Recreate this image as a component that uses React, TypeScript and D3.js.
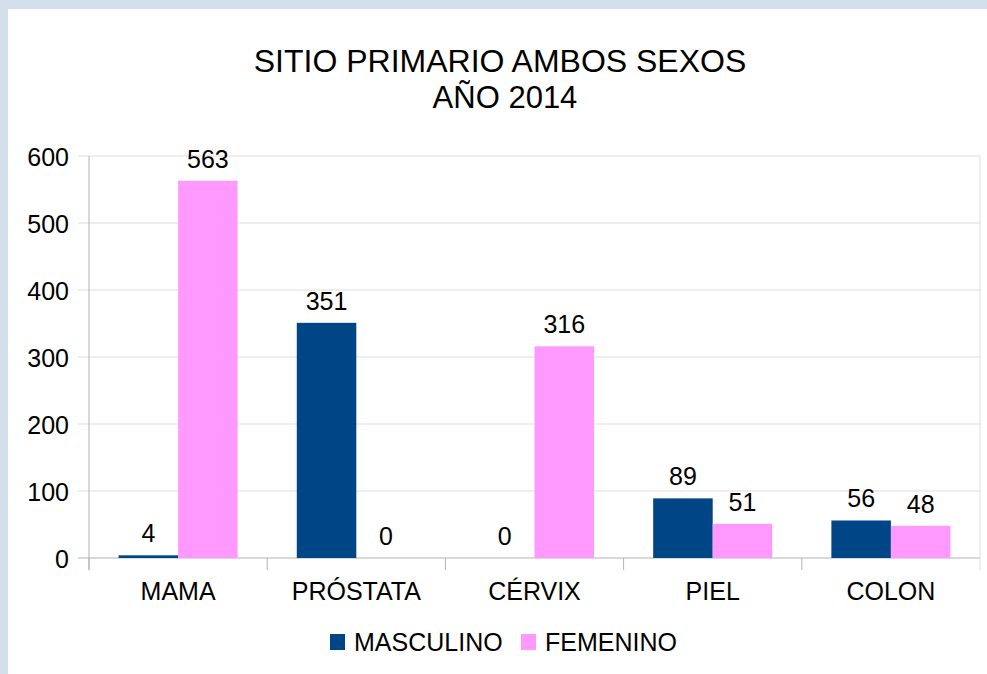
import React from "react";
import * as d3 from "d3";

const categories = ["MAMA", "PRÓSTATA", "CÉRVIX", "PIEL", "COLON"];
const masculino = [4, 351, 0, 89, 56];
const femenino = [563, 0, 316, 51, 48];
const yTicks = [0, 100, 200, 300, 400, 500, 600];
const seriesNames = ["MASCULINO", "FEMENINO"];
const seriesColors = ["#004586", "#ff99ff"];

export default function App() {
  const W = 987, H = 674;
  const left = 89, right = 980, top = 156, bottom = 558;
  const x = d3.scaleBand<string>().domain(categories).range([left, right]).paddingInner(0).paddingOuter(0);
  const y = d3.scaleLinear().domain([0, 600]).range([bottom, top]);
  const bw = x.bandwidth();
  const barW = bw * 0.334;
  const font = "'Liberation Sans', Arial, sans-serif";
  const series = [masculino, femenino];

  return (
    <svg width={W} height={H} style={{ position: "absolute", left: 0, top: 0 }} fontFamily={font}>
      <rect x={0} y={0} width={W} height={H} fill="#d4dfed" />
      <rect x={8} y={9} width={W - 8} height={H - 9} fill="#ffffff" />
      <text x={500} y={72} textAnchor="middle" fontSize={32} fill="#000">SITIO PRIMARIO AMBOS SEXOS</text>
      <text x={505} y={108} textAnchor="middle" fontSize={31} fill="#000">AÑO 2014</text>
      {yTicks.map((t) => (
        <g key={t}>
          <line x1={78} x2={right} y1={y(t)} y2={y(t)} stroke={t === 0 ? "#b3b3b3" : "#dddddd"} strokeWidth={1} />
          <text x={69} y={y(t) + 9.5} textAnchor="end" fontSize={25} fill="#000">{t}</text>
        </g>
      ))}
      <line x1={left} x2={left} y1={top} y2={570} stroke="#b3b3b3" />
      <line x1={right} x2={right} y1={top} y2={570} stroke="#dddddd" />
      {categories.map((c, i) => (
        <line key={"t" + i} x1={x(c)!} x2={x(c)!} y1={bottom} y2={570} stroke="#b3b3b3" />
      ))}
      {categories.map((c) => (
        <text key={"c" + c} x={x(c)! + bw / 2} y={600} textAnchor="middle" fontSize={25} fill="#000">{c}</text>
      ))}
      {series.map((vals, s) =>
        vals.map((v, i) => {
          const cx = x(categories[i])! + bw / 2;
          const bx = cx - barW + s * barW;
          return (
            <g key={s + "-" + i}>
              <rect x={bx} y={y(v)} width={barW} height={bottom - y(v)} fill={seriesColors[s]} />
              <text x={bx + barW / 2} y={y(v) - 13} textAnchor="middle" fontSize={25} fill="#000">{v}</text>
            </g>
          );
        })
      )}
      {seriesNames.map((n, s) => {
        const lx = s === 0 ? 330 : 521;
        return (
          <g key={n}>
            <rect x={lx} y={634} width={15} height={16} fill={seriesColors[s]} />
            <text x={lx + 24} y={651} fontSize={25} fill="#000">{n}</text>
          </g>
        );
      })}
    </svg>
  );
}
